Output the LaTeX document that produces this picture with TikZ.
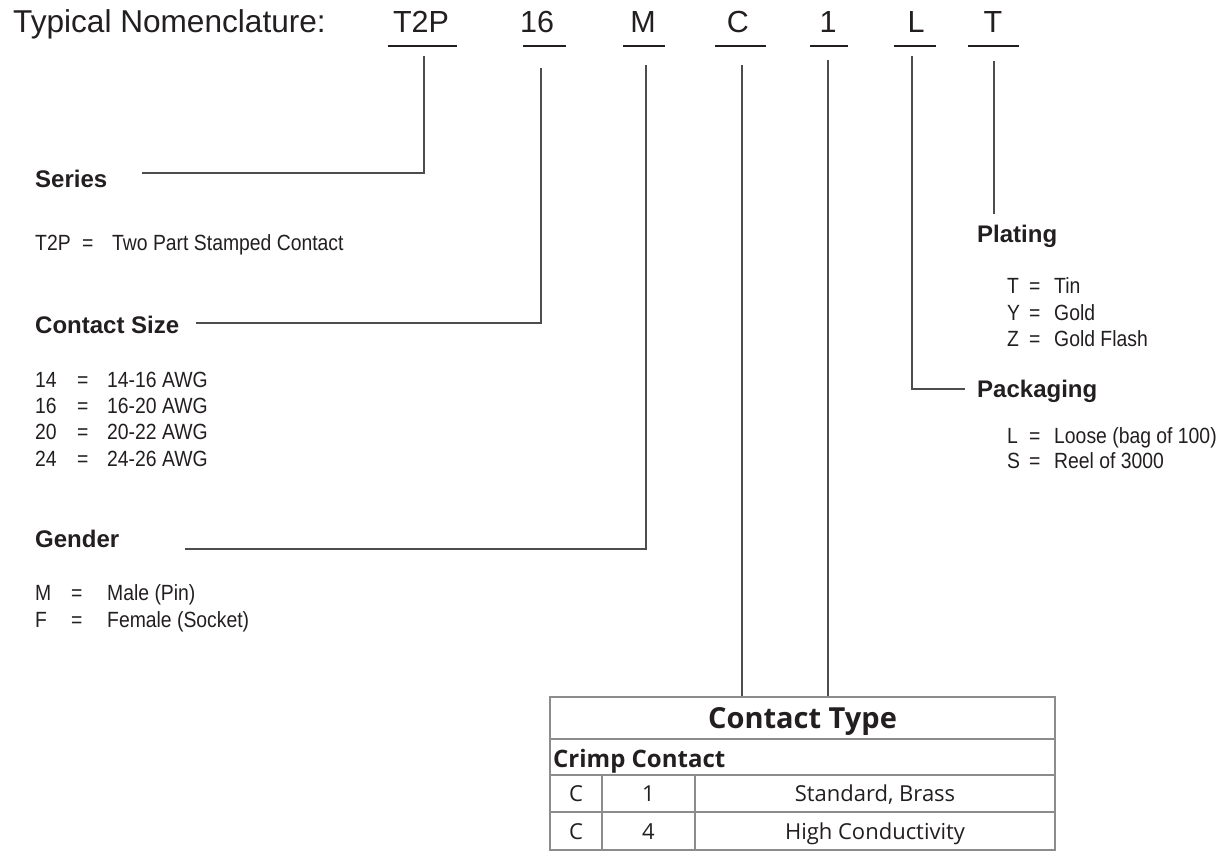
\documentclass[tikz,border=0pt]{standalone}
\usepackage{fontspec}
\setmainfont{Liberation Sans}
\newfontfamily\condfont[FakeStretch=0.88]{Liberation Sans}
\newfontfamily\tabfont{Open Sans}
\definecolor{ink}{HTML}{231F20}
\definecolor{lineg}{HTML}{4D4D4D}
\definecolor{tabg}{HTML}{8C8C8C}
\begin{document}
\begin{tikzpicture}[x=1pt,y=-1pt,
  hdr/.style={font=\fontsize{30.5}{36}\selectfont, text=ink, anchor=base, inner sep=0pt},
  lbl/.style={font=\bfseries\fontsize{24}{28}\selectfont, text=ink, anchor=base west, inner sep=0pt},
  val/.style={font=\condfont\fontsize{22}{26}\selectfont, text=ink, anchor=base west, inner sep=0pt},
  uline/.style={line width=2.4pt, draw=ink},
  conn/.style={line width=1.4pt, draw=lineg},
  tabline/.style={line width=1.3pt, draw=tabg},
  tabhead/.style={font=\tabfont\bfseries\fontsize{29}{34}\selectfont, text=ink, anchor=base, inner sep=0pt},
  tabsub/.style={font=\tabfont\bfseries\fontsize{24}{28}\selectfont, text=ink, anchor=base west, inner sep=0pt},
  tabcell/.style={font=\tabfont\fontsize{22}{26}\selectfont, text=ink, anchor=base, inner sep=0pt}]
\useasboundingbox (0,0) rectangle (1229,852);
\fill[white] (0,0) rectangle (1229,852);

% header
\node[hdr, anchor=base west, font=\fontsize{31.6}{36}\selectfont] (title) at (13,32) {Typical Nomenclature:};
\node[hdr] (hT2P) at (421,32) {T2P};
\node[hdr] (h16) at (537,32) {16};
\node[hdr] (hM) at (643,32) {M};
\node[hdr] (hC) at (738,32) {C};
\node[hdr] (h1) at (828,32) {1};
\node[hdr] (hL) at (916,32) {L};
\node[hdr] (hT) at (993,32) {T};
\draw[uline] (388,46) -- (457,46);
\draw[uline] (523,46) -- (566,46);
\draw[uline] (623,46) -- (665,46);
\draw[uline] (715,46) -- (766,46);
\draw[uline] (810,46) -- (848,46);
\draw[uline] (894,46) -- (936,46);
\draw[uline] (968,46) -- (1019,46);

% connector coordinates
\coordinate (sT2P) at (424,56);
\coordinate (s16) at (541,68);
\coordinate (sM) at (646,65);
\coordinate (sC) at (742,65);
\coordinate (s1) at (828,60);
\coordinate (sL) at (912,56);
\coordinate (sT) at (994,61);
\coordinate (eSeries) at (142,173);
\coordinate (eSize) at (196,323);
\coordinate (eGender) at (185,549);
\coordinate (eC) at (742,697);
\coordinate (e1) at (828,697);
\coordinate (ePack) at (965,389);
\coordinate (ePlat) at (994,214);

\draw[conn] (sT2P) |- (eSeries);
\draw[conn] (s16) |- (eSize);
\draw[conn] (sM) |- (eGender);
\draw[conn] (sC) -- (eC);
\draw[conn] (s1) -- (e1);
\draw[conn] (sL) |- (ePack);
\draw[conn] (sT) -- (ePlat);

% Series
\node[lbl] (series) at (35,187) {Series};
\node[val] (sr1a) at (35,250) {T2P};
\node[val] (sr1b) at (82,250) {=};
\node[val] (sr1c) at (112,250) {Two Part Stamped Contact};

% Contact size
\node[lbl] (size) at (35,333) {Contact Size};
\foreach \n/\v/\y in {14/14-16 AWG/387, 16/16-20 AWG/413, 20/20-22 AWG/439, 24/24-26 AWG/466}{
  \node[val] (cs\n a) at (35,\y) {\n};
  \node[val] (cs\n b) at (77,\y) {=};
  \node[val] (cs\n c) at (107,\y) {\v};
}

% Gender
\node[lbl] (gender) at (35,547) {Gender};
\node[val] (g1a) at (35,600) {M};
\node[val] (g1b) at (71,600) {=};
\node[val] (g1c) at (107,600) {Male (Pin)};
\node[val] (g2a) at (35,627) {F};
\node[val] (g2b) at (71,627) {=};
\node[val] (g2c) at (107,627) {Female (Socket)};

% Plating
\node[lbl] (plating) at (977,242) {Plating};
\node[val] (p1a) at (1007,293) {T};
\node[val] (p1b) at (1029,293) {=};
\node[val] (p1c) at (1054,293) {Tin};
\node[val] (p2a) at (1007,320) {Y};
\node[val] (p2b) at (1029,320) {=};
\node[val] (p2c) at (1054,320) {Gold};
\node[val] (p3a) at (1007,346) {Z};
\node[val] (p3b) at (1029,346) {=};
\node[val] (p3c) at (1054,346) {Gold Flash};

% Packaging
\node[lbl] (packaging) at (977,397) {Packaging};
\node[val] (k1a) at (1007,443) {L};
\node[val] (k1b) at (1029,443) {=};
\node[val] (k1c) at (1054,443) {Loose (bag of 100)};
\node[val] (k2a) at (1007,468) {S};
\node[val] (k2b) at (1029,468) {=};
\node[val] (k2c) at (1054,468) {Reel of 3000};

% Table
\draw[tabline] (550,697) rectangle (1055,850);
\draw[tabline] (550,739) -- (1055,739);
\draw[tabline] (550,775) -- (1055,775);
\draw[tabline] (550,812) -- (1055,812);
\draw[tabline] (602,775) -- (602,850);
\draw[tabline] (695,775) -- (695,850);
\node[tabhead] (ctype) at (802.5,728) {Contact Type};
\node[tabsub] (crimp) at (553,767) {Crimp Contact};
\node[tabcell] (r1a) at (576,801) {C};
\node[tabcell] (r1b) at (648.5,801) {1};
\node[tabcell] (r1c) at (875,801) {Standard, Brass};
\node[tabcell] (r2a) at (576,839) {C};
\node[tabcell] (r2b) at (648.5,839) {4};
\node[tabcell] (r2c) at (875,839) {High Conductivity};
\end{tikzpicture}
\end{document}
